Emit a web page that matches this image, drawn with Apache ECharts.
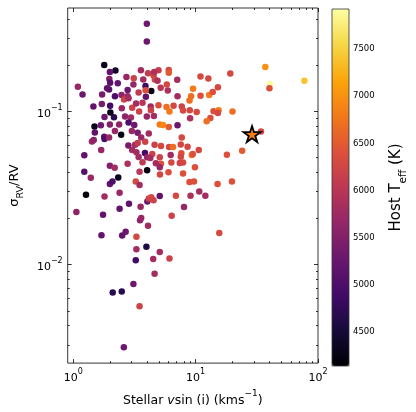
<!DOCTYPE html>
<html>
<head>
<meta charset="utf-8">
<script src="https://cdn.jsdelivr.net/npm/echarts@6/dist/echarts.min.js"></script>
<style>
  html, body { margin: 0; padding: 0; background: #fff; }
  #chart { width: 416px; height: 412px; }
</style>
</head>
<body>
<div id="chart"></div>
<script>
// stellar vsin(i) in km/s
const vsini = [
  3.99, 3.99, 1.79, 2.21, 1.99, 3.57, 4.08, 4.53, 4.97, 6.03, 6.03, 7.07, 10.96, 1.09, 1.19, 1.97, 2.00, 2.31, 2.72, 3.12,
  3.10, 3.73, 3.89, 4.34, 1.96, 1.89, 1.72, 2.19, 2.48, 2.78, 2.78, 2.60, 2.83, 3.42, 3.92, 4.64, 4.88, 5.18, 5.92, 7.11,
  9.52, 9.18, 10.96, 1.46, 1.71, 2.00, 2.49, 3.03, 3.26, 3.68, 4.29, 4.31, 4.97, 5.78, 6.11, 6.60, 7.70, 8.96, 10.2, 1.80,
  2.15, 2.65, 2.96, 3.45, 3.99, 4.56, 2.83, 3.15, 2.01, 1.49, 1.99, 1.68, 2.37, 5.09, 5.40, 6.03, 7.11, 1.50, 2.19, 2.46,
  3.01, 3.36, 4.14, 3.59, 3.87, 1.42, 1.79, 1.80, 1.96, 1.69, 2.82, 3.20, 3.36, 4.62, 5.21, 6.07, 6.53, 7.56, 8.59, 10.6,
  3.85, 3.28, 4.01, 4.42, 6.25, 5.09, 7.64, 9.30, 1.23, 3.42, 3.68, 2.78, 6.33, 7.42, 7.89, 5.21, 1.99, 2.18, 4.01, 3.48,
  6.00, 1.23, 1.39, 2.33, 1.99, 2.09, 3.24, 2.39, 1.27, 1.80, 5.09, 8.91, 9.69, 10.7, 9.08, 37.1, 40.6, 40.1, 77.4, 19.2,
  12.7, 12.9, 13.8, 15.2, 8.91, 7.89, 9.01, 14.0, 15.4, 15.2, 13.2, 12.3, 20.0, 34.2, 18.0, 24.0, 7.70, 9.47, 7.56, 9.87,
  7.89, 15.1, 19.8, 12.0, 3.48, 2.85, 2.39, 3.55, 4.03, 4.14, 4.34, 4.53, 6.90, 8.03, 1.06, 1.75, 3.51, 3.59, 4.08, 6.37,
  1.70, 2.51, 2.68, 3.28, 3.96, 3.28, 5.09, 4.50, 6.11, 3.24, 4.62, 3.10, 2.10, 2.49, 3.48, 2.59, 1.47, 3.03, 4.26, 4.73,
  5.09, 5.11, 4.58, 5.81, 3.90, 15.6
];
// sigma_RV / RV
const sigmaRv = [
  0.374, 0.286, 0.201, 0.185, 0.181, 0.186, 0.178, 0.172, 0.186, 0.187, 0.179, 0.161, 0.169, 0.145, 0.129, 0.163, 0.154, 0.153, 0.168, 0.165,
  0.150, 0.162, 0.147, 0.136, 0.139, 0.142, 0.129, 0.126, 0.128, 0.138, 0.126, 0.120, 0.122, 0.133, 0.125, 0.162, 0.159, 0.143, 0.137, 0.126,
  0.141, 0.126, 0.127, 0.108, 0.112, 0.109, 0.105, 0.106, 0.113, 0.114, 0.108, 0.102, 0.110, 0.107, 0.100, 0.109, 0.108, 0.102, 0.0994, 0.0922,
  0.0918, 0.0928, 0.0914, 0.100, 0.0928, 0.0936, 0.0848, 0.0818, 0.0985, 0.0799, 0.0823, 0.0815, 0.0823, 0.0823, 0.0818, 0.0794, 0.0815, 0.0731, 0.0745, 0.0705,
  0.0745, 0.0726, 0.0720, 0.0678, 0.0635, 0.0638, 0.0684, 0.0661, 0.0678, 0.0561, 0.0601, 0.0607, 0.0622, 0.0607, 0.0595, 0.0586, 0.0586, 0.0610, 0.0589, 0.0561,
  0.0536, 0.0542, 0.0503, 0.0528, 0.0520, 0.0503, 0.0534, 0.0520, 0.0518, 0.0505, 0.0466, 0.0457, 0.0464, 0.0462, 0.0464, 0.0457, 0.0443, 0.0430, 0.0414, 0.0404,
  0.0402, 0.0404, 0.0369, 0.0371, 0.0336, 0.0349, 0.0349, 0.0295, 0.0286, 0.0279, 0.0281, 0.0347, 0.0349, 0.0301, 0.0282, 0.195, 0.151, 0.142, 0.159, 0.177,
  0.164, 0.128, 0.134, 0.144, 0.118, 0.1015, 0.0905, 0.1005, 0.102, 0.0979, 0.0909, 0.0865, 0.100, 0.0742, 0.0523, 0.0555, 0.0678, 0.0528, 0.0507, 0.0433,
  0.0394, 0.0337, 0.0349, 0.0282, 0.0331, 0.0250, 0.0232, 0.0239, 0.0259, 0.0271, 0.0276, 0.0264, 0.0282, 0.0238, 0.0221, 0.0212, 0.0195, 0.0202, 0.0180, 0.0209,
  0.0156, 0.0155, 0.0164, 0.0152, 0.0131, 0.0126, 0.0121, 0.0109, 0.0110, 0.0107, 0.00874, 0.00748, 0.00658, 0.00668, 0.00536, 0.00289, 0.0651, 0.0561, 0.0497, 0.0460,
  0.0433, 0.0388, 0.181, 0.150, 0.1375, 0.0161
];
// host effective temperature (K)
const teff = [
  5300, 5300, 4300, 4400, 5200, 5800, 6100, 6200, 6100, 6300, 6500, 5800, 6300, 5700, 5300, 5500, 5100, 5200, 5700, 6200,
  5700, 5800, 4900, 4300, 5100, 5200, 5400, 5000, 5600, 5300, 5700, 6200, 5800, 6100, 5200, 6300, 5900, 6000, 5900, 5800,
  6800, 6700, 6400, 5200, 5400, 4900, 5700, 6200, 5800, 6000, 5800, 6200, 6400, 6700, 6800, 6300, 6200, 6300, 6300, 5300,
  4700, 5600, 5800, 6200, 5700, 5800, 5000, 5300, 4300, 4300, 5500, 5300, 5600, 6800, 6900, 6500, 5300, 5200, 5700, 4300,
  5700, 5400, 5800, 5700, 6200, 5700, 5200, 5000, 5700, 5700, 5400, 5800, 6100, 6200, 6300, 6300, 6700, 6300, 6300, 6300,
  4900, 5800, 5700, 6200, 5800, 6200, 6400, 6800, 5200, 5800, 6100, 5900, 6300, 6200, 6300, 6400, 5500, 5800, 4200, 6000,
  6400, 5100, 5700, 4300, 5200, 5000, 6300, 5700, 4200, 5800, 5200, 6400, 6400, 5800, 5900, 7000, 7900, 6400, 7400, 6300,
  6300, 6800, 6400, 6300, 6700, 6300, 5900, 6400, 6800, 6300, 6400, 6700, 6700, 6300, 6400, 6500, 6300, 6400, 6300, 6400,
  6400, 6400, 6400, 5800, 5800, 5200, 5200, 5700, 5300, 6200, 6300, 6200, 6300, 5700, 5600, 5200, 5600, 5700, 5800, 6200,
  5200, 5200, 5300, 6300, 4600, 5800, 5800, 5800, 6200, 4900, 5800, 5300, 4700, 4700, 6200, 5300, 5600, 5800, 5800, 5800,
  5700, 6300, 5900, 6300, 6400, 6300
];
// highlighted system (star marker)
const target = [28.9, 0.0712];

const xMajor = [1, 10, 100];
const xMinor = [2, 3, 4, 5, 6, 7, 8, 9, 20, 30, 40, 50, 60, 70, 80, 90];
const yMajor = [0.01, 0.1];
const yMinor = [0.003, 0.004, 0.005, 0.006, 0.007, 0.008, 0.009,
  0.02, 0.03, 0.04, 0.05, 0.06, 0.07, 0.08, 0.09, 0.2, 0.3, 0.4];
const cbTicks = [4500, 5000, 5500, 6000, 6500, 7000, 7500];
const inferno = ['#000004', '#160b39', '#420a68', '#6a176e', '#932667', '#bc3754',
  '#dd513a', '#f37819', '#fca50a', '#f6d746', '#fcffa4'];

const FONT = 'DejaVu Sans';
const X_RANGE = [0.9, 100];
const Y_RANGE = [0.00228, 0.474];
const T_RANGE = [4140, 7924];

const points = vsini.map((v, i) => [v, sigmaRv[i], teff[i]]);

const tickRich = {
  b: { fontFamily: FONT, fontSize: 11, color: '#000', lineHeight: 16, verticalAlign: 'bottom' },
  s: { fontFamily: FONT, fontSize: 8, color: '#000', lineHeight: 8, verticalAlign: 'top' }
};
function powLabel(v) {
  const e = Math.round(Math.log10(v));
  return '{b|10}{s|' + (e < 0 ? '\u2212' + (-e) : e) + '}';
}

function logAxis(gridPos, range, ticks, len, labels) {
  return {
    type: 'log', logBase: 10, position: gridPos,
    min: range[0], max: range[1],
    axisLine: { show: false },
    splitLine: { show: false },
    axisTick: { show: true, inside: true, length: len, customValues: ticks,
      lineStyle: { color: '#000', width: 0.8 } },
    axisLabel: labels
      ? { show: true, customValues: labels, margin: 5, formatter: powLabel, rich: tickRich }
      : { show: false }
  };
}

const xAxes = [
  logAxis('bottom', X_RANGE, xMajor, 4, xMajor),
  logAxis('bottom', X_RANGE, xMinor, 2, null),
  logAxis('top', X_RANGE, xMajor, 4, null),
  logAxis('top', X_RANGE, xMinor, 2, null)
];
const yAxes = [
  logAxis('left', Y_RANGE, yMajor, 4, yMajor),
  logAxis('left', Y_RANGE, yMinor, 2, null),
  logAxis('right', Y_RANGE, yMajor, 4, null),
  logAxis('right', Y_RANGE, yMinor, 2, null)
];
xAxes.forEach(a => { a.gridIndex = 0; });
yAxes.forEach(a => { a.gridIndex = 0; });

Object.assign(xAxes[0], {
  name: '{t|Stellar }{i|v}{t|sin (i) (kms}{s|\u22121}{t|)}',
  nameLocation: 'middle', nameGap: 19,
  nameTextStyle: { rich: {
    t: { fontFamily: FONT, fontSize: 12.5, color: '#000', lineHeight: 18, verticalAlign: 'bottom' },
    i: { fontFamily: FONT, fontSize: 12.5, color: '#000', lineHeight: 18, verticalAlign: 'bottom', fontStyle: 'italic' },
    s: { fontFamily: FONT, fontSize: 9, color: '#000', lineHeight: 9, verticalAlign: 'top' }
  } }
});
Object.assign(yAxes[0], {
  name: '{t|\u03c3}{b|RV}{t|/RV}',
  nameLocation: 'middle', nameGap: 35, nameRotate: 90,
  nameTextStyle: { rich: {
    t: { fontFamily: FONT, fontSize: 13, color: '#000', lineHeight: 18, verticalAlign: 'top' },
    b: { fontFamily: FONT, fontSize: 9.5, color: '#000', lineHeight: 10, verticalAlign: 'bottom' }
  } }
});

// colorbar axes
xAxes.push({ type: 'value', gridIndex: 1, show: false, min: 0, max: 1 });
yAxes.push({
  type: 'value', gridIndex: 1, position: 'right',
  min: T_RANGE[0], max: T_RANGE[1],
  axisLine: { show: false },
  splitLine: { show: false },
  axisTick: { show: true, inside: false, length: 3, customValues: cbTicks,
    lineStyle: { color: '#000', width: 0.8 } },
  axisLabel: { customValues: cbTicks, margin: 4, fontFamily: FONT, fontSize: 8.5, color: '#000',
    formatter: v => String(v) },
  name: '{t|Host T}{b|eff}{t| (K)}',
  nameLocation: 'middle', nameGap: 40, nameRotate: 90,
  nameTextStyle: { rich: {
    t: { fontFamily: FONT, fontSize: 15, color: '#000', lineHeight: 20, verticalAlign: 'top' },
    b: { fontFamily: FONT, fontSize: 10.5, color: '#000', lineHeight: 11, verticalAlign: 'bottom' }
  } }
});

const chart = echarts.init(document.getElementById('chart'));
chart.setOption({
  animation: false,
  backgroundColor: '#fff',
  grid: [
    { left: 60, top: 8, width: 258, height: 357, show: true, borderColor: '#000', borderWidth: 0.8 },
    { left: 332, top: 9, width: 17, height: 357, show: true, borderColor: '#333', borderWidth: 0.8, z: 10 }
  ],
  xAxis: xAxes,
  yAxis: yAxes,
  visualMap: {
    type: 'continuous',
    seriesIndex: 0,
    dimension: 2,
    min: T_RANGE[0], max: T_RANGE[1],
    calculable: false,
    left: 332, top: 9,
    itemWidth: 17, itemHeight: 357,
    padding: 0,
    text: null,
    inRange: { color: inferno }
  },
  series: [
    {
      type: 'scatter',
      xAxisIndex: 0, yAxisIndex: 0,
      symbolSize: 6.5,
      itemStyle: { opacity: 1 },
      data: points
    },
    {
      type: 'scatter',
      xAxisIndex: 0, yAxisIndex: 0,
      symbol: 'path://M50,0 L61.2,34.5 L97.6,34.5 L68.2,55.9 L79.4,90.5 L50,69.1 L20.6,90.5 L31.8,55.9 L2.4,34.5 L38.8,34.5 Z',
      symbolKeepAspect: true,
      symbolSize: 17,
      itemStyle: { color: '#f57d15', opacity: 1, borderColor: '#000', borderWidth: 1.8 },
      data: [target],
      z: 5
    }
  ]
});
</script>
</body>
</html>
